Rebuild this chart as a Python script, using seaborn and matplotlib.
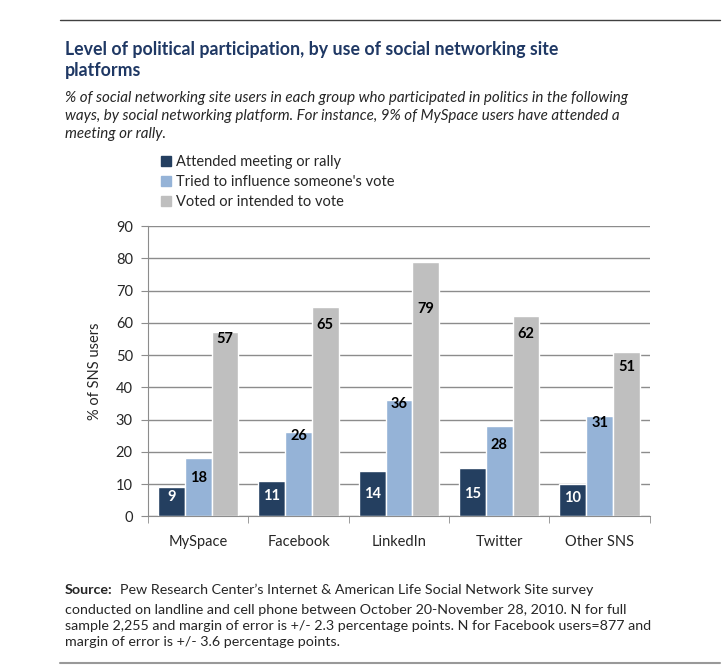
import pandas as pd
import matplotlib.pyplot as plt
import seaborn as sns
from matplotlib.lines import Line2D

platforms = ['MySpace', 'Facebook', 'LinkedIn', 'Twitter', 'Other SNS']
series = ['Attended meeting or rally', "Tried to influence someone's vote", 'Voted or intended to vote']
attended = [9, 11, 14, 15, 10]
influence = [18, 26, 36, 28, 31]
voted = [57, 65, 79, 62, 51]
# where the data labels sit (in % units), as placed in the original
attended_lbl = [5.9, 6.2, 6.9, 6.9, 5.6]
influence_lbl = [11.8, 24.9, 34.9, 22.1, 29.0]
voted_lbl = [55.1, 59.2, 64.2, 56.4, 46.4]
yticks = list(range(0, 91, 10))

colors = ['#243F60', '#95B3D7', '#BFBFBF']

df = pd.DataFrame({
    'platform': platforms * 3,
    'series': [s for s in series for _ in platforms],
    'value': attended + influence + voted,
})

sns.set_style('white')
plt.rcParams['font.family'] = ['Lato', 'DejaVu Sans']

fig = plt.figure(figsize=(7.26, 6.67), dpi=100)
ax = fig.add_axes([0.204, 0.226, 0.691, 0.435])

sns.barplot(data=df, x='platform', y='value', hue='series', palette=colors,
            width=0.8, saturation=1, ax=ax, legend=False)

ax.set_ylim(0, 90)
ax.set_yticks(yticks)
ax.set_xlim(-0.5, 4.5)
ax.yaxis.grid(True, color='#8C8C8C', linewidth=1)
ax.set_axisbelow(True)
for s in ['top', 'right']:
    ax.spines[s].set_visible(False)
for s in ['left', 'bottom']:
    ax.spines[s].set_color('#8C8C8C')
ax.tick_params(axis='y', left=True, length=5, color='#8C8C8C', labelsize=10.5, pad=6)
ax.tick_params(axis='x', bottom=False, labelsize=10.5, pad=10)
# category boundary ticks
ax.set_xticks([i - 0.5 for i in range(len(platforms) + 1)], minor=True)
ax.tick_params(axis='x', which='minor', bottom=True, length=5, color='#8C8C8C')
ax.set_xlabel('')
ax.set_ylabel('% of SNS users', fontsize=10.5, labelpad=10)

offsets = [-0.8 / 3, 0, 0.8 / 3]
for k, (vals, lbls) in enumerate([(attended, attended_lbl), (influence, influence_lbl), (voted, voted_lbl)]):
    for i, (v, ly) in enumerate(zip(vals, lbls)):
        ax.text(i + offsets[k], ly, str(v), ha='center', va='center', fontsize=10.5,
                fontweight='bold', color='white' if k == 0 else 'black')

# legend
handles = [Line2D([0], [0], marker='s', linestyle='', markersize=7, color=c) for c in colors]
fig.legend(handles, series, loc='upper left', bbox_to_anchor=(0.222, 1 - 155 / 667), frameon=False,
           fontsize=10.5, handlelength=0.6, handletextpad=0.4, labelspacing=0.42,
           borderpad=0, borderaxespad=0)

# header and footer
fig.add_artist(Line2D([60 / 726, 720 / 726], [1 - 20 / 667] * 2, color='#404040', linewidth=1))
fig.add_artist(Line2D([60 / 726, 720 / 726], [1 - 663 / 667] * 2, color='#999999', linewidth=1.5))
fig.text(65 / 726, 1 - 60 / 667, 'Level of political participation, by use of social networking site\nplatforms',
         ha='left', va='center', fontsize=12.8, fontweight='bold', color='#1F3864', linespacing=1.3)
fig.text(65 / 726, 1 - 116 / 667,
         '% of social networking site users in each group who participated in politics in the following\n'
         'ways, by social networking platform. For instance, 9% of MySpace users have attended a\n'
         'meeting or rally.',
         ha='left', va='center', fontsize=10.9, style='italic', linespacing=1.38)
src = fig.text(65 / 726, 1 - 590 / 667, 'Source:', ha='left', va='center', fontsize=10.3, fontweight='bold')
ax.annotate('Pew Research Center\u2019s Internet & American Life Social Network Site survey',
            xy=(1, 0.5), xycoords=src, xytext=(5, 0), textcoords='offset points',
            ha='left', va='center', fontsize=10.3, annotation_clip=False)
fig.text(65 / 726, 1 - 626 / 667,
         'conducted on landline and cell phone between October 20-November 28, 2010. N for full\n'
         'sample 2,255 and margin of error is +/- 2.3 percentage points. N for Facebook users=877 and\n'
         'margin of error is +/- 3.6 percentage points.',
         ha='left', va='center', fontsize=10.3, linespacing=1.4)

fig.savefig('out.png', dpi=100)
